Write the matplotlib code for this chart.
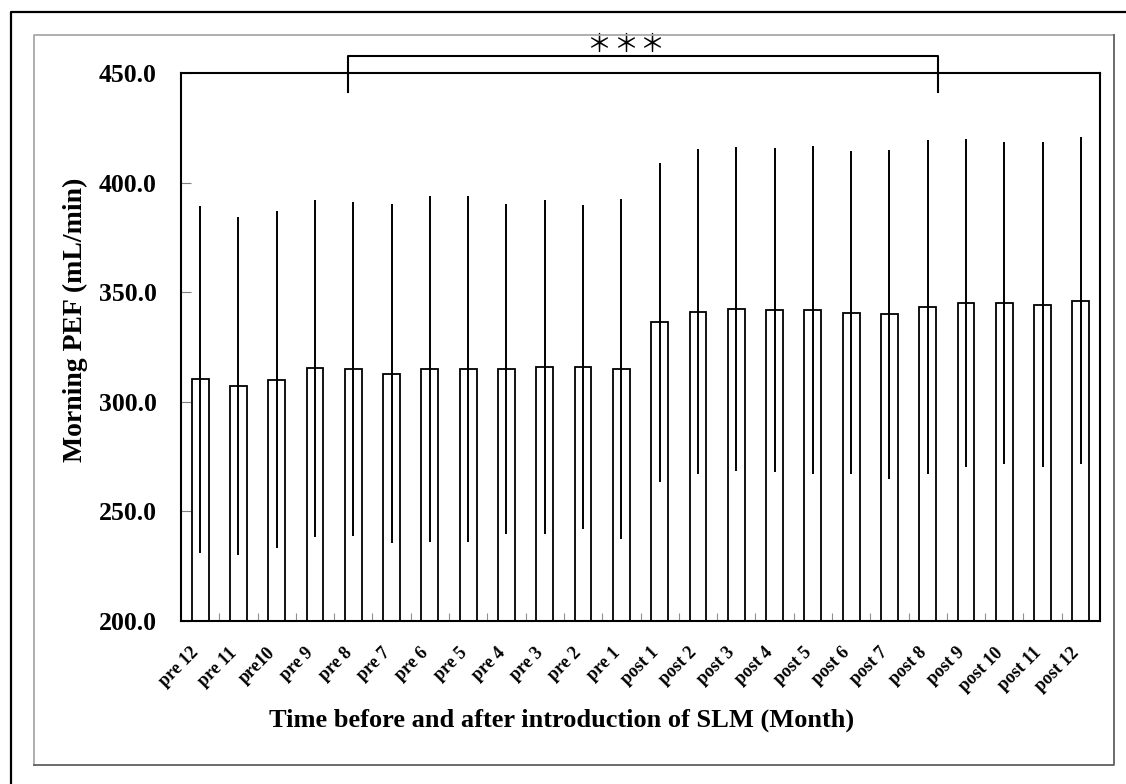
import matplotlib
matplotlib.use("Agg")
import matplotlib.pyplot as plt
from matplotlib.lines import Line2D
from matplotlib.transforms import ScaledTranslation

categories = ["pre 12", "pre 11", "pre10", "pre 9", "pre 8", "pre 7", "pre 6", "pre 5",
              "pre 4", "pre 3", "pre 2", "pre 1",
              "post 1", "post 2", "post 3", "post 4", "post 5", "post 6", "post 7",
              "post 8", "post 9", "post 10", "post 11", "post 12"]
means = [310.1, 307.1, 310.0, 315.2, 315.0, 312.7, 315.0, 315.0, 315.0, 315.8, 315.8, 315.0,
         336.2, 341.1, 342.4, 341.9, 341.9, 340.6, 339.8, 343.1, 344.9, 344.9, 344.2, 346.1]
sds = [79.0, 77.0, 77.0, 77.0, 76.3, 77.4, 79.0, 79.0, 75.4, 76.2, 73.9, 77.6,
       72.8, 74.1, 74.0, 74.0, 74.9, 73.6, 74.9, 76.1, 74.8, 73.4, 74.1, 74.6]
yticks = [200.0, 250.0, 300.0, 350.0, 400.0, 450.0]
ylabel = "Morning PEF (mL/min)"
xlabel = "Time before and after introduction of SLM (Month)"
sig_mark = "＊"
sig_count = 3

serif = ["Liberation Serif", "DejaVu Serif"]

W, H = 1126, 784
fig = plt.figure(figsize=(W / 100, H / 100), dpi=100)
fig.patch.set_facecolor("white")

def fx(px):
    return px / W

def fy(py):
    return 1 - py / H

# outer frames
fig.add_artist(Line2D([fx(11), fx(11), fx(1130)], [fy(790), fy(12), fy(12)],
                      transform=fig.transFigure, color="black", lw=1.6))
fig.add_artist(Line2D([fx(34), fx(34), fx(1114)], [fy(765), fy(35), fy(35)],
                      transform=fig.transFigure, color="#a8a8a8", lw=1.3))
fig.add_artist(Line2D([fx(34), fx(1114), fx(1114)], [fy(765), fy(765), fy(35)],
                      transform=fig.transFigure, color="#606060", lw=1.3))

ax = fig.add_axes([fx(181), fy(620.7), fx(1100) - fx(181), fy(73) - fy(620.7)])
x = list(range(len(categories)))
ax.bar(x, means, width=0.44, color="white", edgecolor="black", linewidth=1.3, zorder=2)
ax.errorbar(x, means, yerr=sds, fmt="none", ecolor="black", elinewidth=1.4, capsize=0, zorder=3)

ax.set_ylim(200, 450)
ax.set_xlim(-0.5, len(categories) - 0.5)
ax.set_yticks(yticks)
ax.set_yticklabels([f"{v:.1f}" for v in yticks], fontfamily=serif, fontweight="bold", fontsize=18.5)
ax.set_xticks(x)
ax.set_xticklabels(categories, rotation=45, ha="right", rotation_mode="anchor",
                   fontfamily=serif, fontweight="bold", fontsize=13)
ax.tick_params(axis="x", length=0, pad=17)
ax.tick_params(axis="y", direction="in", length=7, width=0.8, color="#808080", pad=17.5)
offset = ScaledTranslation(-0.10, 0, fig.dpi_scale_trans)
for lab in ax.get_xticklabels():
    lab.set_transform(lab.get_transform() + offset)
# minor ticks at category boundaries on x axis
ax.set_xticks([i + 0.5 for i in x[:-1]], minor=True)
ax.tick_params(axis="x", which="minor", direction="in", length=6, width=0.8, color="#909090")
for s in ax.spines.values():
    s.set_linewidth(1.5)
    s.set_color("black")

fig.text(fx(75), fy(320), ylabel, rotation=90, ha="center", va="center",
         fontfamily=serif, fontweight="bold", fontsize=20)
fig.text(fx(562), fy(720), xlabel, ha="center", va="center",
         fontfamily=serif, fontweight="bold", fontsize=19)

# significance bracket
bx0, bx1 = 3.86, 19.26
ax.plot([bx0, bx0, bx1, bx1], [441.5, 457.6, 457.6, 441.5], color="black", lw=1.5,
        clip_on=False, zorder=4)
for k in range(sig_count):
    ax.text(11.1 + (k - 1) * 0.70, 462.8, sig_mark, ha="center", va="center",
            fontfamily=["Noto Sans CJK JP", "DejaVu Sans"], fontsize=18)

fig.savefig("out.png", dpi=100)
